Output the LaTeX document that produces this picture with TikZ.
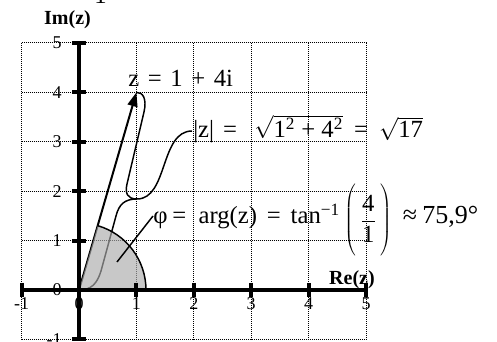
\documentclass[tikz,border=0pt]{standalone}
\usepackage{fontspec}
\setmainfont{Liberation Serif}
\usetikzlibrary{arrows.meta,calc}
\definecolor{sectorfill}{RGB}{171,171,171}
\tikzset{
  gridline/.style={line width=0.75pt, dash pattern=on 0.75pt off 0.75pt},
  axisline/.style={line width=3pt},
  tickmark/.style={line width=3pt},
  ticklab/.style={font=\fontsize{13.5}{16}\selectfont, inner sep=0pt},
  axlab/.style={font=\fontsize{15}{18}\selectfont\bfseries, inner sep=0pt},
  formula/.style={font=\fontsize{18.5}{22}\selectfont, inner sep=0pt},
  thinline/.style={line width=1.1pt},
  vecline/.style={line width=1.5pt, -{Triangle[length=10.5pt,width=7.5pt]}},
  sector/.style={fill=sectorfill, fill opacity=0.65},
}
\newcommand{\bigparL}{\raisebox{-1.5pt}{$\left(\vrule height 31pt depth 22pt width 0pt\right.$}}
\newcommand{\bigparR}{\raisebox{-1.5pt}{$\left.\vrule height 31pt depth 22pt width 0pt\right)$}}
\begin{document}
\begin{tikzpicture}[x=0.75pt,y=-0.75pt]
\useasboundingbox (0,0) rectangle (497,342);
% grid
\foreach \k in {-1,...,5} {
  \draw[gridline] ({79+57.4*\k},43) -- ({79+57.4*\k},339.4);
  \draw[gridline] (21.6,{290-49.4*\k}) -- (366,{290-49.4*\k});
}
% tick labels
\foreach \k in {-1,...,5} {
  \node[ticklab] (xl\k) at ({79+57.4*\k},304) {\k};
  \node[ticklab, anchor=east] (yl\k) at (62,{290-49.4*\k}) {\k};
}
\node[axlab] (im) at (67.5,20) {Im(z)};
% top fragment
\node[formula, anchor=base west] (frag) at (86,4) {-1 \hspace{0.3em}=};
% points
\coordinate (O) at (79,290);
\coordinate (P) at (136.4,92.4);
\coordinate (cusp) at (137,199);
\coordinate (phihead) at (117,262);
\coordinate (arcstart) at (146,290);
% vector
\draw[vecline] (O) -- (P);
% brace
\draw[thinline] (O) .. controls (91,290) and (97,284) .. (101,271) -- (116,216) .. controls (119,204) and (125,199) .. (cusp);
\draw[thinline] (cusp) .. controls (127,199) and (125,193) .. (127,184) -- (144,112) .. controls (147,99) and (143,92) .. (P);
% sector
\fill[sector] (O) -- (arcstart) arc[start angle=0, end angle=-73.8, radius=67] -- cycle;
\draw[thinline] (arcstart) arc[start angle=0, end angle=-73.8, radius=67];
% axes
\draw[axisline] (21.6,290) -- (366,290);
\draw[axisline] (79,339.4) -- (79,43);
\foreach \k in {-1,1,2,3,4,5} {
  \draw[tickmark] ({79+57.4*\k},283) -- ({79+57.4*\k},297);
  \draw[tickmark] (72,{290-49.4*\k}) -- (86,{290-49.4*\k});
}
\node[axlab] (re) at (352,280) {Re(z)};
% labels
\node[formula, anchor=base west] (zlab) at (128,87) {z\hspace{0.35em}=\hspace{0.35em}1\hspace{0.35em}+\hspace{0.35em}4i};
\node[formula, anchor=base west] (mod) at (193,138) {|z|\hspace{0.37em}=\hspace{0.7em}$\sqrt{\hbox{1\textsuperscript{2}\hspace{0.25em}+\hspace{0.25em}4\textsuperscript{2}}}$\hspace{0.45em}=\hspace{0.45em}$\sqrt{\hbox{17}}$};
\node[formula, anchor=base west] (phi) at (153,224) {φ\hspace{0.2em}=\hspace{0.5em}arg(z)\hspace{0.4em}=\hspace{0.4em}tan\textsuperscript{−1}\hspace{0.2em}\bigparL\hspace{0.1em}\raisebox{-2pt}{$\displaystyle\frac{\hbox{4}}{\hbox{1}}$}\hspace{0.1em}\bigparR\hspace{0.45em}{\fontsize{19.5}{22}\selectfont ≈\hspace{0.2em}75,9°}};
% connectors to labels
\draw[thinline] (cusp) .. controls (168,199) and (160,131) .. ([shift={(-1,-7)}]mod.base west);
\draw[thinline] (phihead) -- ([shift={(0,-8)}]phi.base west);
\end{tikzpicture}
\end{document}
